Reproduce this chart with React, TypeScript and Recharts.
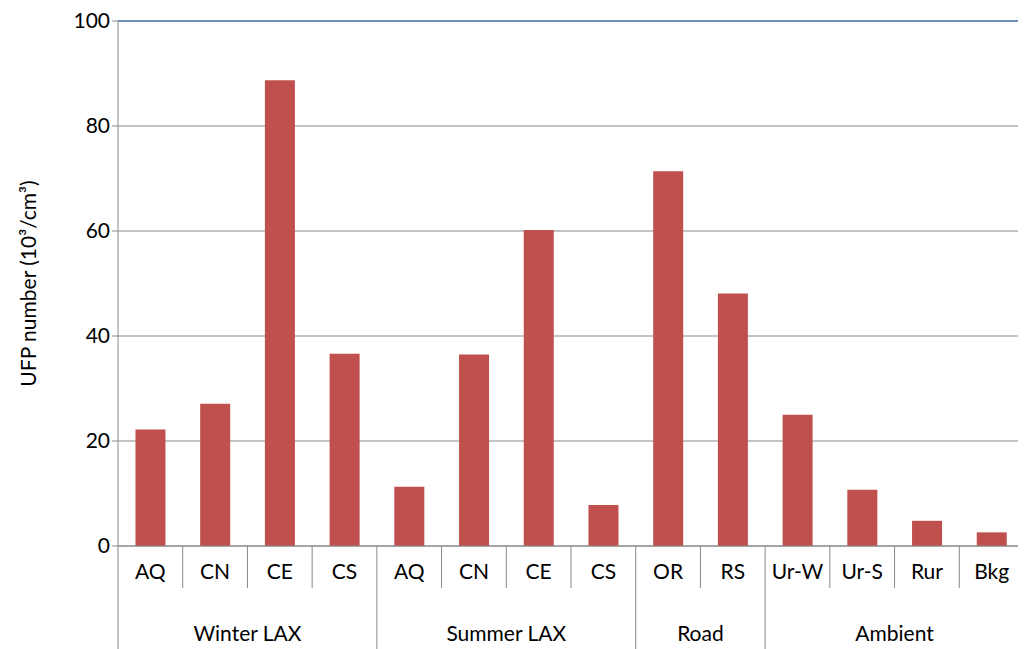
import React from "react";
import { BarChart, Bar, XAxis, YAxis, CartesianGrid, ReferenceLine } from "recharts";

const categories = ["AQ", "CN", "CE", "CS", "AQ", "CN", "CE", "CS", "OR", "RS", "Ur-W", "Ur-S", "Rur", "Bkg"];
const values = [22.2, 27.1, 88.7, 36.6, 11.3, 36.5, 60.2, 7.8, 71.4, 48.1, 25.0, 10.7, 4.8, 2.6];
const groups = [
  { name: "Winter LAX", start: 0, count: 4 },
  { name: "Summer LAX", start: 4, count: 4 },
  { name: "Road", start: 8, count: 2 },
  { name: "Ambient", start: 10, count: 4 },
];
const yTicks = [0, 20, 40, 60, 80, 100];

const data = categories.map((c, i) => ({ key: i, cat: c, v: values[i] }));

const W = 1018;
const H = 641;
const ML = 50;
const YW = 60;
const MR = 2;
const band = (W - ML - YW - MR) / categories.length;
const FONT = "Lato, 'Open Sans', sans-serif";

const Tick = (props: any) => {
  const { x, y, index } = props;
  const i = index;
  const left = x - band / 2;
  const g = groups.find((gr) => gr.start === i);
  const items: any[] = [];
  items.push(
    <line key="s" x1={left} x2={left} y1={y - 8} y2={g ? y + 102 : y + 34} stroke="#888" strokeWidth={1} />
  );
  if (i === categories.length - 1) {
    items.push(<line key="e" x1={x + band / 2} x2={x + band / 2} y1={y - 8} y2={y + 102} stroke="#888" />);
  }
  items.push(
    <text key="t" x={x} y={y + 25} textAnchor="middle" fontSize={21} fill="#000" fontFamily={FONT}>
      {categories[i]}
    </text>
  );
  if (g) {
    items.push(
      <text key="g" x={left + (g.count * band) / 2} y={y + 87} textAnchor="middle" fontSize={21} fill="#000" fontFamily={FONT}>
        {g.name}
      </text>
    );
  }
  return <g>{items}</g>;
};

export default function App() {
  return (
    <BarChart width={W} height={H} data={data} margin={{ top: 13, right: MR, left: ML, bottom: 0 }} barCategoryGap="27%">
      <CartesianGrid vertical={false} stroke="#888" />
      <XAxis dataKey="key" height={103} interval={0} tick={<Tick />} tickLine={false} axisLine={{ stroke: "#888" }} />
      <YAxis
        width={YW}
        domain={[0, 100]}
        ticks={yTicks}
        tick={{ fontSize: 21, fill: "#000", fontFamily: FONT }}
        tickLine={{ stroke: "#888" }}
        tickSize={6}
        axisLine={{ stroke: "#888" }}
        label={{
          value: "UFP number (10³/cm³)",
          angle: -90,
          position: "insideLeft",
          dx: -34,
          style: { textAnchor: "middle", fontSize: 21, fill: "#000", fontFamily: FONT },
        }}
      />
      <ReferenceLine y={100} stroke="#4F81BD" strokeWidth={1.5} />
      <Bar dataKey="v" fill="#C0504D" isAnimationActive={false} />
    </BarChart>
  );
}
